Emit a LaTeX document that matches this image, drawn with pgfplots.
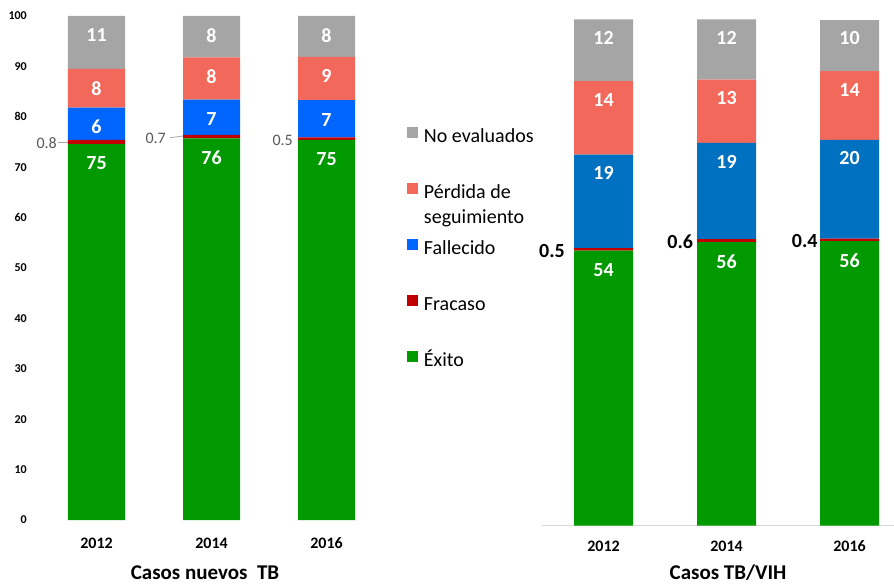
\documentclass[border=0pt]{standalone}
\usepackage{fontspec}
\setmainfont{Carlito}
\usepackage{pgfplots}
\pgfplotsset{compat=1.18}
\definecolor{cgrey}{HTML}{A5A5A5}
\definecolor{cpink}{HTML}{F2695C}
\definecolor{cblueL}{HTML}{0066FF}
\definecolor{cblueR}{HTML}{0070C0}
\definecolor{cred}{HTML}{C00000}
\definecolor{cgreen}{HTML}{009900}
\definecolor{clab}{HTML}{595959}
\pgfplotsset{
  inlab/.style 2 args={nodes near coords, point meta=explicit symbolic,
    visualization depends on={rawy \as \rawy},
    every node near coord/.style={font=\bfseries\fontsize{20}{22}\selectfont, text=white, anchor=center, inner sep=0pt, yshift={#1*\rawy-#2}}},
  sqlegend/.style={legend image code/.code={\fill[##1] (0pt,0pt) rectangle (11pt,11pt);}},
}
\begin{document}
\begin{tikzpicture}
\useasboundingbox (0,0) rectangle (894pt,584pt);
\begin{axis}[
  at={(39pt,64pt)}, anchor=south west,
  scale only axis, width=345pt, height=504pt,
  xmin=-0.5, xmax=2.5, ymin=0, ymax=100,
  ybar stacked, bar width=57pt,
  axis line style={draw=none},
  tick style={draw=none},
  xtick={0,1,2}, xticklabels={2012,2014,2016},
  ytick={0,10,...,100},
  /pgf/number format/assume math mode=true,
  yticklabel style={font=\bfseries\fontsize{12}{14}\selectfont, anchor=east, inner sep=0pt, xshift=-12pt},
  xticklabel style={font=\bfseries\fontsize{16}{18}\selectfont, anchor=center, inner sep=0pt, yshift=-23pt},
  reverse legend,
  legend cell align=left,
  legend style={at={(axis description cs:1.066,0.781)}, anchor=north west, draw=none, fill=none,
    inner sep=0pt, row sep=36pt, column sep=6pt, font=\fontsize{20}{25}\selectfont,
    nodes={inner sep=0pt, text height=14pt, text depth=4pt}},
]
\addplot[fill=cgreen, draw=none, sqlegend, inlab={2.52pt}{19.5pt}] coordinates {(0,74.6) [75] (1,75.7) [76] (2,75.4) [75]};
\addlegendentry{Éxito}
\addplot[fill=cred, draw=none, sqlegend, nodes near coords, point meta=explicit symbolic,
  every node near coord/.style={font=\fontsize{16}{18}\selectfont, text=clab, anchor=east, inner sep=0pt, xshift=-33.5pt, yshift=-1.5pt}]
  coordinates {(0,0.8) [0.8\kern6pt] (1,0.7) [0.7\kern12pt] (2,0.5) [0.5]};
\addlegendentry{Fracaso}
\addplot[fill=cblueL, draw=none, sqlegend, inlab={2.52pt}{19.5pt}] coordinates {(0,6.4) [6] (1,7.0) [7] (2,7.4) [7]};
\addlegendentry{Fallecido}
\addplot[fill=cpink, draw=none, sqlegend, inlab={2.52pt}{19.5pt}] coordinates {(0,7.7) [8] (1,8.4) [8] (2,8.6) [9]};
\addlegendentry{\begin{tabular}[t]{@{}l@{}}Pérdida de\\seguimiento\end{tabular}}
\addplot[fill=cgrey, draw=none, sqlegend, inlab={2.52pt}{19.5pt}] coordinates {(0,10.5) [11] (1,8.2) [8] (2,8.1) [8]};
\addlegendentry{No evaluados}
\draw[draw=black!35, line width=0.8pt] (axis cs:-0.335,75.0) -- (axis cs:-0.252,75.0);
\draw[draw=black!35, line width=0.8pt] (axis cs:0.639,75.85) -- (axis cs:0.752,76.19);
\end{axis}
\begin{axis}[
  at={(542pt,58.5pt)}, anchor=south west,
  scale only axis, width=369pt, height=506pt,
  xmin=-0.5, xmax=2.5, ymin=0, ymax=100,
  ybar stacked, bar width=59pt,
  axis y line=none, axis x line*=bottom,
  x axis line style={draw=black!15, line width=1.2pt, -},
  tick style={draw=none},
  xtick={0,1,2}, xticklabels={2012,2014,2016}, ytick=\empty,
  xticklabel style={font=\bfseries\fontsize{16}{18}\selectfont, anchor=center, inner sep=0pt, yshift=-21pt},
]
\addplot[fill=cgreen, draw=none, inlab={2.53pt}{19.2pt}] coordinates {(0,54.3) [54] (1,56.0) [56] (2,56.2) [56]};
\addplot[fill=cred, draw=none, nodes near coords, point meta=explicit symbolic,
  every node near coord/.style={font=\bfseries\fontsize{20}{22}\selectfont, text=black, anchor=east, inner sep=0pt, xshift=-31.8pt, yshift=-1.5pt}]
  coordinates {(0,0.5) [0.5\kern6.7pt] (1,0.6) [0.6\kern1.4pt] (2,0.5) [0.4]};
\addplot[fill=cblueR, draw=none, inlab={2.53pt}{18.5pt}] coordinates {(0,18.5) [19] (1,19.0) [19] (2,19.5) [20]};
\addplot[fill=cpink, draw=none, inlab={2.53pt}{18.5pt}] coordinates {(0,14.5) [14] (1,12.5) [13] (2,13.6) [14]};
\addplot[fill=cgrey, draw=none, inlab={2.53pt}{18.5pt}] coordinates {(0,12.2) [12] (1,11.9) [12] (2,10.1) [10]};
\end{axis}
\node[font=\bfseries\fontsize{21}{25}\selectfont] at (205pt,11pt) {Casos nuevos\ \ TB};
\node[font=\bfseries\fontsize{21}{25}\selectfont] at (728pt,11pt) {Casos TB/VIH};
\end{tikzpicture}
\end{document}
